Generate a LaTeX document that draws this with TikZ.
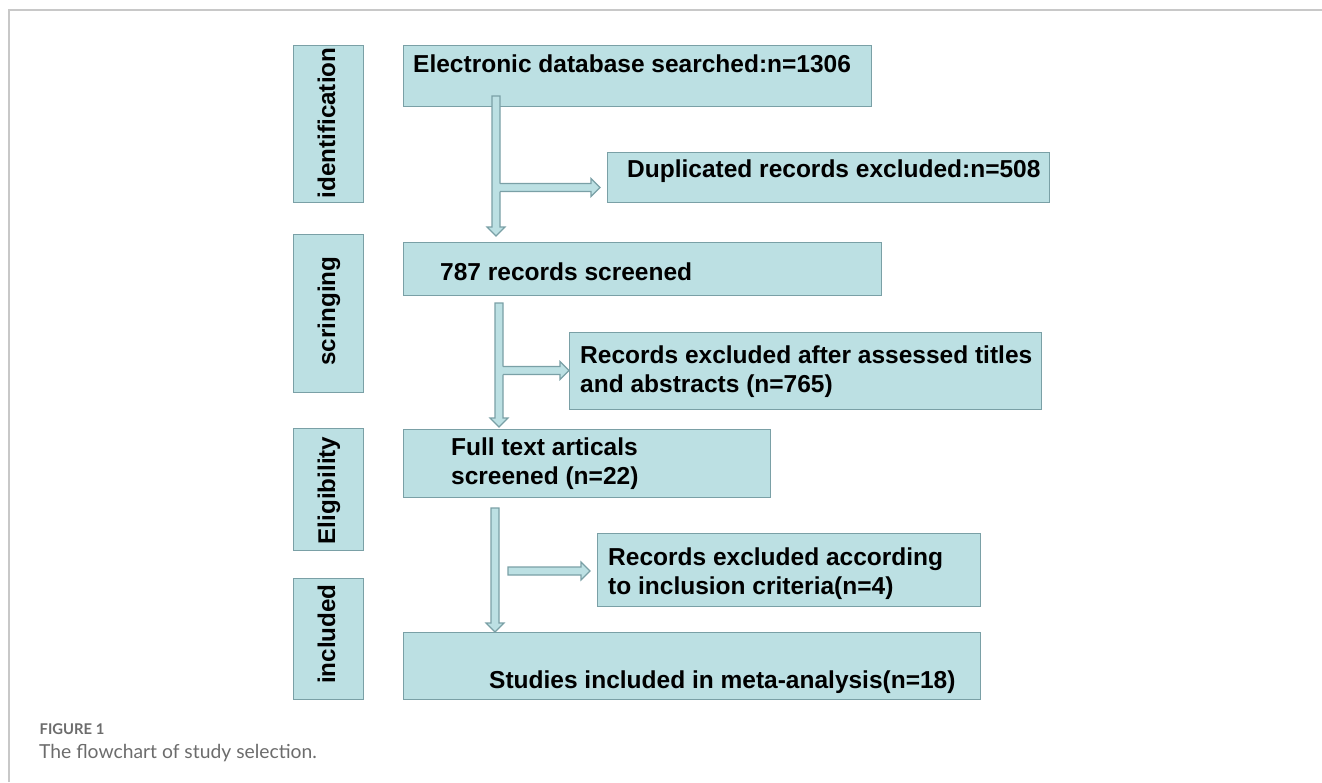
\documentclass[tikz,border=0pt]{standalone}
\usepackage{fontspec}
\setmainfont{Liberation Sans}
\newfontfamily\capfont{Lato}
\usetikzlibrary{calc}

\definecolor{boxfill}{RGB}{188,224,227}
\definecolor{boxline}{RGB}{122,160,166}
\definecolor{framegray}{RGB}{200,200,200}
\definecolor{capgray}{RGB}{108,108,108}

\tikzset{
  stage/.style={draw=boxline, fill=boxfill, line width=1.2pt, inner sep=0pt,
                anchor=north west},
  boxtxt/.style={anchor=base west, inner sep=0pt,
                 font=\bfseries\fontsize{24.5}{29}\selectfont},
  phase/.style={anchor=center, inner sep=0pt, rotate=90,
                text height=0.73em, text depth=0.21em,
                font=\bfseries\fontsize{24.2}{28}\selectfont},
  flow/.style={draw=boxline, fill=boxfill, line width=1.1pt, line join=miter},
}

% hollow block arrow pointing down, from #1 to the tip #2
\newcommand\downblock[2]{%
  \path[flow] let \p1=(#1), \p2=(#2) in
    (\x1-4pt,\y1) -- (\x1-4pt,\y2+9pt) -- (\x1-9pt,\y2+9pt) -- (\x1,\y2)
    -- (\x1+9pt,\y2+9pt) -- (\x1+4pt,\y2+9pt) -- (\x1+4pt,\y1) -- cycle;}
% hollow block arrow pointing right, from #1 to the tip #2
\newcommand\rightblock[2]{%
  \path[flow] let \p1=(#1), \p2=(#2) in
    (\x1,\y1+4pt) -- (\x2-9pt,\y1+4pt) -- (\x2-9pt,\y1+9pt) -- (\x2,\y1)
    -- (\x2-9pt,\y1-9pt) -- (\x2-9pt,\y1-4pt) -- (\x1,\y1-4pt) -- cycle;}
% branch leaving a vertical block arrow whose axis passes through #1
\newcommand\branchblock[2]{%
  \fill[boxfill] let \p1=(#1), \p2=(#2) in
    (\x1,\y1+4pt) -- (\x2-9pt,\y1+4pt) -- (\x2-9pt,\y1+9pt) -- (\x2,\y1)
    -- (\x2-9pt,\y1-9pt) -- (\x2-9pt,\y1-4pt) -- (\x1,\y1-4pt) -- cycle;
  \draw[boxline, line width=1.1pt, line join=miter] let \p1=(#1), \p2=(#2) in
    (\x1+4pt,\y1+4pt) -- (\x2-9pt,\y1+4pt) -- (\x2-9pt,\y1+9pt) -- (\x2,\y1)
    -- (\x2-9pt,\y1-9pt) -- (\x2-9pt,\y1-4pt) -- (\x1+4pt,\y1-4pt);}

\begin{document}
\begin{tikzpicture}[x=1pt, y=-1pt]
\useasboundingbox (0,0) rectangle (1322,782);

% page frame
\draw[framegray, line width=1.5pt] (9,782) -- (9,10) -- (1322,10);

% phase labels
\node[stage, minimum width=70pt, minimum height=157pt] (pid) at (293,45) {};
\node[stage, minimum width=70pt, minimum height=158pt] (psc) at (293,234) {};
\node[stage, minimum width=70pt, minimum height=122pt] (pel) at (293,428) {};
\node[stage, minimum width=70pt, minimum height=121pt] (pin) at (293,578) {};
\node[phase] (tid) at (332.5,123) {identification};
\node[phase] (tsc) at (332.5,311) {scringing};
\node[phase] (tel) at (332.5,490.5) {Eligibility};
\node[phase] (tin) at (332.5,634) {included};

% flow boxes
\node[stage, minimum width=468pt, minimum height=61pt] (b1)  at (403,45)  {};
\node[stage, minimum width=442pt, minimum height=50pt] (dup) at (607,152) {};
\node[stage, minimum width=478pt, minimum height=53pt] (b2)  at (403,242) {};
\node[stage, minimum width=472pt, minimum height=77pt] (ex2) at (569,332) {};
\node[stage, minimum width=367pt, minimum height=68pt] (b3)  at (403,429) {};
\node[stage, minimum width=383pt, minimum height=73pt] (ex3) at (597,533) {};
\node[stage, minimum width=577pt, minimum height=67pt] (b4)  at (403,632) {};

% box texts
\node[boxtxt] (t1)  at (413,72) {Electronic database searched:n=1306};
\node[boxtxt] (td)  at (627,177.5)  {Duplicated records excluded:n=508};
\node[boxtxt] (t2)  at (440,280)  {787 records screened};
\node[boxtxt] (te2a) at (580,363.5) {Records excluded after assessed titles};
\node[boxtxt] (te2b) at (580,392.5) {and abstracts (n=765)};
\node[boxtxt] (t3a) at (451,455.5)  {Full text articals};
\node[boxtxt] (t3b) at (451,484.5)  {screened (n=22)};
\node[boxtxt] (te3a) at (608,565.5) {Records excluded according};
\node[boxtxt] (te3b) at (608,594) {to inclusion criteria(n=4)};
\node[boxtxt] (t4)  at (489,688.5)  {Studies included in meta-analysis(n=18)};

% connectors
\coordinate (v1s) at (496,96);
\coordinate (v1e) at ($(v1s |- b2.north)+(0,-6)$);
\coordinate (h1s) at (496,187.5);
\coordinate (h1e) at ($(dup.west |- h1s)+(-7,0)$);
\downblock{v1s}{v1e}
\branchblock{h1s}{h1e}

\coordinate (v2s) at (499,303);
\coordinate (v2e) at ($(v2s |- b3.north)+(0,-2)$);
\coordinate (h2s) at (499,370.5);
\coordinate (h2e) at (ex2.west |- h2s);
\downblock{v2s}{v2e}
\branchblock{h2s}{h2e}

\coordinate (v3s) at (495,508);
\coordinate (v3e) at (v3s |- b4.north);
\coordinate (h3s) at (508,571);
\coordinate (h3e) at ($(ex3.west |- h3s)+(-7,0)$);
\downblock{v3s}{v3e}
\rightblock{h3s}{h3e}

% caption
\node[anchor=base west, inner sep=0pt, text=capgray,
      font=\capfont\bfseries\fontsize{14.8}{17}\selectfont] (fig) at (39.5,734) {FIGURE 1};
\node[anchor=base west, inner sep=0pt, text=capgray,
      font=\capfont\fontsize{19.3}{23}\selectfont] (cap) at (39,758) {The flowchart of study selection.};
\end{tikzpicture}
\end{document}
